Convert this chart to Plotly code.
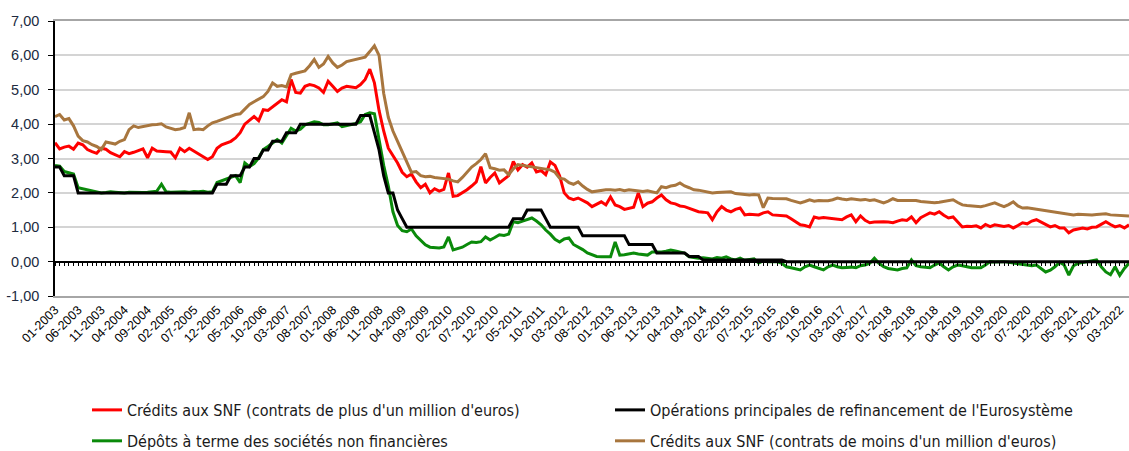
import pandas as pd
import plotly.graph_objects as go

# mois de 01-2003 a 05-2022
mois = list(pd.date_range("2003-01-01", periods=233, freq="MS").strftime("%m-%Y"))

# Credits aux SNF, contrats de plus d'un million d'euros
credits_plus = [
    3.46, 3.28, 3.33, 3.36, 3.27, 3.45, 3.40, 3.26, 3.20, 3.15, 3.30, 3.27,
    3.17, 3.12, 3.05, 3.20, 3.14, 3.18, 3.22, 3.28, 3.02, 3.30, 3.22, 3.20,
    3.20, 3.19, 3.02, 3.30, 3.20, 3.30, 3.22, 3.14, 3.05, 2.97, 3.05, 3.30,
    3.40, 3.46, 3.50, 3.60, 3.75, 4.00, 4.10, 4.22, 4.10, 4.42, 4.40, 4.51,
    4.62, 4.71, 4.65, 5.30, 4.92, 4.90, 5.10, 5.15, 5.12, 5.05, 4.92, 5.25,
    5.10, 4.95, 5.05, 5.10, 5.08, 5.06, 5.15, 5.30, 5.60, 5.20, 4.40, 3.80,
    3.30, 3.10, 2.87, 2.60, 2.47, 2.55, 2.32, 2.15, 2.25, 2.00, 2.12, 2.05,
    2.10, 2.58, 1.90, 1.92, 2.00, 2.09, 2.20, 2.32, 2.76, 2.29, 2.45, 2.58,
    2.29, 2.40, 2.50, 2.91, 2.67, 2.82, 2.75, 2.87, 2.61, 2.65, 2.53, 2.90,
    2.80, 2.50, 2.00, 1.85, 1.80, 1.85, 1.78, 1.71, 1.60, 1.68, 1.74, 1.65,
    1.88, 1.65, 1.60, 1.52, 1.55, 1.58, 2.00, 1.60, 1.70, 1.74, 1.85, 1.94,
    1.80, 1.71, 1.68, 1.62, 1.60, 1.55, 1.48, 1.45, 1.44, 1.42, 1.22, 1.45,
    1.60, 1.50, 1.45, 1.52, 1.56, 1.36, 1.38, 1.37, 1.36, 1.42, 1.45, 1.36,
    1.35, 1.34, 1.33, 1.25, 1.15, 1.07, 1.05, 1.01, 1.30, 1.26, 1.28, 1.27,
    1.25, 1.24, 1.22, 1.30, 1.36, 1.16, 1.33, 1.20, 1.13, 1.15, 1.16, 1.16,
    1.15, 1.13, 1.18, 1.22, 1.20, 1.30, 1.13, 1.28, 1.35, 1.42, 1.38, 1.45,
    1.35, 1.27, 1.30, 1.15, 1.01, 1.03, 1.02, 1.04, 0.98, 1.08, 1.02, 1.07,
    1.05, 1.02, 1.05, 0.98, 1.05, 1.13, 1.10, 1.18, 1.22, 1.15, 1.08, 1.01,
    1.05, 0.98, 0.98, 0.84, 0.92, 0.95, 0.98, 0.95, 1.00, 1.01, 1.08, 1.16,
    1.08, 1.01, 1.05, 0.98, 1.07,
]

# Operations principales de refinancement de l'Eurosysteme
taux_opr = [
    2.75, 2.75, 2.50, 2.50, 2.50, 2.00, 2.00, 2.00, 2.00, 2.00, 2.00, 2.00,
    2.00, 2.00, 2.00, 2.00, 2.00, 2.00, 2.00, 2.00, 2.00, 2.00, 2.00, 2.00,
    2.00, 2.00, 2.00, 2.00, 2.00, 2.00, 2.00, 2.00, 2.00, 2.00, 2.00, 2.25,
    2.25, 2.25, 2.50, 2.50, 2.50, 2.75, 2.75, 3.00, 3.00, 3.25, 3.25, 3.50,
    3.50, 3.50, 3.75, 3.75, 3.75, 4.00, 4.00, 4.00, 4.00, 4.00, 4.00, 4.00,
    4.00, 4.00, 4.00, 4.00, 4.00, 4.00, 4.25, 4.25, 4.25, 3.75, 3.25, 2.50,
    2.00, 2.00, 1.50, 1.25, 1.00, 1.00, 1.00, 1.00, 1.00, 1.00, 1.00, 1.00,
    1.00, 1.00, 1.00, 1.00, 1.00, 1.00, 1.00, 1.00, 1.00, 1.00, 1.00, 1.00,
    1.00, 1.00, 1.00, 1.25, 1.25, 1.25, 1.50, 1.50, 1.50, 1.50, 1.25, 1.00,
    1.00, 1.00, 1.00, 1.00, 1.00, 1.00, 0.75, 0.75, 0.75, 0.75, 0.75, 0.75,
    0.75, 0.75, 0.75, 0.75, 0.50, 0.50, 0.50, 0.50, 0.50, 0.50, 0.25, 0.25,
    0.25, 0.25, 0.25, 0.25, 0.25, 0.15, 0.15, 0.15, 0.05, 0.05, 0.05, 0.05,
    0.05, 0.05, 0.05, 0.05, 0.05, 0.05, 0.05, 0.05, 0.05, 0.05, 0.05, 0.05,
    0.05, 0.05, 0.00, 0.00, 0.00, 0.00, 0.00, 0.00, 0.00, 0.00, 0.00, 0.00,
    0.00, 0.00, 0.00, 0.00, 0.00, 0.00, 0.00, 0.00, 0.00, 0.00, 0.00, 0.00,
    0.00, 0.00, 0.00, 0.00, 0.00, 0.00, 0.00, 0.00, 0.00, 0.00, 0.00, 0.00,
    0.00, 0.00, 0.00, 0.00, 0.00, 0.00, 0.00, 0.00, 0.00, 0.00, 0.00, 0.00,
    0.00, 0.00, 0.00, 0.00, 0.00, 0.00, 0.00, 0.00, 0.00, 0.00, 0.00, 0.00,
    0.00, 0.00, 0.00, 0.00, 0.00, 0.00, 0.00, 0.00, 0.00, 0.00, 0.00, 0.00,
    0.00, 0.00, 0.00, 0.00, 0.00,
]

# Depots a terme des societes non financieres
depots_terme = [
    2.80, 2.78, 2.62, 2.58, 2.55, 2.15, 2.12, 2.10, 2.06, 2.03, 2.00, 2.01,
    2.03, 2.02, 2.01, 2.00, 2.02, 2.01, 2.00, 2.01, 2.02, 2.03, 2.05, 2.25,
    2.03, 2.02, 2.03, 2.02, 2.03, 2.02, 2.04, 2.03, 2.05, 2.02, 2.03, 2.30,
    2.35, 2.38, 2.45, 2.50, 2.30, 2.87, 2.76, 2.85, 3.02, 3.26, 3.35, 3.46,
    3.55, 3.45, 3.65, 3.88, 3.80, 3.85, 3.98, 4.02, 4.07, 4.05, 3.98, 3.98,
    4.00, 4.04, 3.93, 3.96, 3.98, 4.02, 4.07, 4.28, 4.33, 4.30, 3.55, 2.80,
    2.20, 1.45, 1.05, 0.90, 0.87, 0.95, 0.75, 0.63, 0.49, 0.42, 0.40, 0.40,
    0.43, 0.72, 0.34, 0.38, 0.42, 0.50, 0.57, 0.56, 0.58, 0.72, 0.63, 0.70,
    0.78, 0.76, 0.80, 1.16, 1.13, 1.18, 1.22, 1.27, 1.18, 1.07, 0.92, 0.80,
    0.65, 0.57, 0.66, 0.69, 0.50, 0.43, 0.35, 0.25, 0.20, 0.15, 0.14, 0.14,
    0.14, 0.57, 0.19, 0.20, 0.22, 0.25, 0.22, 0.20, 0.19, 0.28, 0.27, 0.28,
    0.30, 0.34, 0.31, 0.28, 0.25, 0.14, 0.12, 0.10, 0.11, 0.10, 0.08, 0.12,
    0.10, 0.14, 0.08, 0.05, 0.10, 0.04, 0.05, 0.08, -0.04, 0.02, 0.00, 0.01,
    0.00, -0.05, -0.15, -0.18, -0.22, -0.24, -0.15, -0.10, -0.15, -0.20, -0.24, -0.15,
    -0.10, -0.15, -0.18, -0.17, -0.16, -0.18, -0.12, -0.10, -0.05, 0.10, -0.05, -0.15,
    -0.20, -0.22, -0.24, -0.20, -0.18, 0.05, -0.12, -0.15, -0.17, -0.18, -0.10, -0.04,
    -0.15, -0.24, -0.15, -0.10, -0.12, -0.15, -0.18, -0.18, -0.18, -0.10, 0.00, -0.01,
    0.00, 0.00, -0.02, -0.04, -0.05, -0.08, -0.10, -0.12, -0.10, -0.20, -0.30, -0.25,
    -0.15, -0.02, -0.10, -0.39, -0.12, -0.05, -0.02, 0.00, 0.02, 0.05, -0.15, -0.30,
    -0.38, -0.15, -0.40, -0.20, -0.05,
]

# Credits aux SNF, contrats de moins d'un million d'euros
credits_moins = [
    4.22, 4.28, 4.12, 4.16, 3.95, 3.65, 3.52, 3.48, 3.40, 3.35, 3.26, 3.48,
    3.45, 3.42, 3.50, 3.55, 3.84, 3.95, 3.90, 3.93, 3.96, 3.98, 3.99, 4.01,
    3.92, 3.88, 3.84, 3.86, 3.90, 4.33, 3.84, 3.86, 3.84, 3.95, 4.04, 4.08,
    4.13, 4.18, 4.22, 4.28, 4.30, 4.44, 4.57, 4.65, 4.72, 4.80, 4.95, 5.20,
    5.10, 5.12, 5.08, 5.44, 5.48, 5.52, 5.55, 5.70, 5.88, 5.65, 5.75, 5.97,
    5.78, 5.65, 5.72, 5.82, 5.85, 5.88, 5.92, 5.95, 6.11, 6.28, 6.00, 4.90,
    4.20, 3.80, 3.50, 3.20, 2.95, 2.60, 2.62, 2.50, 2.47, 2.48, 2.45, 2.44,
    2.43, 2.40, 2.35, 2.32, 2.45, 2.61, 2.75, 2.85, 2.97, 3.14, 2.73, 2.70,
    2.66, 2.67, 2.53, 2.70, 2.82, 2.80, 2.78, 2.76, 2.75, 2.73, 2.70, 2.67,
    2.60, 2.43, 2.40, 2.30, 2.25, 2.32, 2.20, 2.10, 2.03, 2.05, 2.08, 2.09,
    2.09, 2.08, 2.10, 2.06, 2.09, 2.07, 2.05, 2.04, 2.06, 2.02, 2.00, 2.18,
    2.15, 2.20, 2.22, 2.29, 2.20, 2.15, 2.09, 2.08, 2.05, 2.02, 2.00, 2.01,
    2.02, 2.03, 2.03, 1.98, 1.96, 1.95, 1.94, 1.95, 1.94, 1.57, 1.85, 1.84,
    1.84, 1.83, 1.83, 1.78, 1.75, 1.71, 1.75, 1.80, 1.76, 1.78, 1.77, 1.77,
    1.80, 1.85, 1.82, 1.80, 1.83, 1.80, 1.79, 1.81, 1.78, 1.80, 1.75, 1.71,
    1.76, 1.83, 1.78, 1.78, 1.77, 1.76, 1.78, 1.75, 1.74, 1.73, 1.71, 1.73,
    1.75, 1.76, 1.80, 1.72, 1.65, 1.63, 1.62, 1.61, 1.60, 1.63, 1.68, 1.71,
    1.65, 1.60, 1.66, 1.74, 1.62, 1.56, 1.57, 1.55, 1.53, 1.51, 1.50, 1.48,
    1.45, 1.42, 1.40, 1.38, 1.36, 1.38, 1.37, 1.36, 1.36, 1.37, 1.38, 1.39,
    1.36, 1.35, 1.34, 1.34, 1.33,
]

y_ticks = [-1, 0, 1, 2, 3, 4, 5, 6, 7]
y_labels = ["-1,00", "0,00", "1,00", "2,00", "3,00", "4,00", "5,00", "6,00", "7,00"]
x_labels = mois[::5]

fig = go.Figure()
fig.add_trace(go.Scatter(x=mois, y=credits_plus, mode="lines",
                         name="Crédits aux SNF (contrats de plus d'un million d'euros)",
                         line=dict(color="#ff0000", width=3), legend="legend"))
fig.add_trace(go.Scatter(x=mois, y=taux_opr, mode="lines", xaxis="x2",
                         name="Opérations principales de refinancement de l'Eurosystème",
                         line=dict(color="#000000", width=3), legend="legend"))
fig.add_trace(go.Scatter(x=mois, y=depots_terme, mode="lines",
                         name="Dépôts à terme des sociétés non financières",
                         line=dict(color="#0a8a0a", width=3), legend="legend2"))
fig.add_trace(go.Scatter(x=mois, y=credits_moins, mode="lines",
                         name="Crédits aux SNF (contrats de moins d'un million d'euros)",
                         line=dict(color="#a8763e", width=3), legend="legend2"))

leg_font = dict(family="DejaVu Sans Condensed, Liberation Sans Narrow, Liberation Sans, sans-serif",
                size=16, color="#1a1a1a")

fig.update_layout(
    width=1129, height=451,
    margin=dict(l=55, r=0, t=21, b=155, autoexpand=False),
    plot_bgcolor="white", paper_bgcolor="white",
    font=dict(family="Liberation Sans, Arial, sans-serif", color="#000000"),
    xaxis=dict(type="category", range=[0, 232], tickmode="array",
               tickvals=x_labels, ticktext=x_labels, tickangle=-45,
               tickfont=dict(size=12.5, color="#000000"), automargin=False,
               showgrid=False, showline=True, linecolor="#a6a6a6", linewidth=1.5,
               mirror=True, ticks=""),
    xaxis2=dict(type="category", overlaying="x", range=[0, 232], anchor="free",
                position=0.125, side="bottom", showline=True, linecolor="#000000",
                linewidth=1.5, ticks="outside", ticklen=4, tickcolor="#000000",
                tickwidth=1, tickmode="linear", tick0=0, dtick=1, automargin=False,
                showticklabels=False, showgrid=False),
    yaxis=dict(range=[-1, 7], tickmode="array", tickvals=y_ticks, ticktext=y_labels,
               showgrid=True, gridcolor="#d4d4d4", gridwidth=1.5, automargin=False,
               showline=True, linecolor="#000000", linewidth=1.5,
               ticks="outside", ticklen=5, tickcolor="#000000", ticklabelstandoff=6,
               tickfont=dict(size=14.5, color="#202a40"), zeroline=False),
    legend=dict(orientation="h", x=0.0298, xanchor="left", y=-0.4145, yanchor="middle",
                entrywidth=478, font=leg_font, bgcolor="rgba(0,0,0,0)"),
    legend2=dict(orientation="h", x=0.0298, xanchor="left", y=-0.527, yanchor="middle",
                 entrywidth=478, font=leg_font, bgcolor="rgba(0,0,0,0)"),
)

fig.write_html("out.html", config={"displayModeBar": False},
               post_script="document.body.style.margin='0';")
